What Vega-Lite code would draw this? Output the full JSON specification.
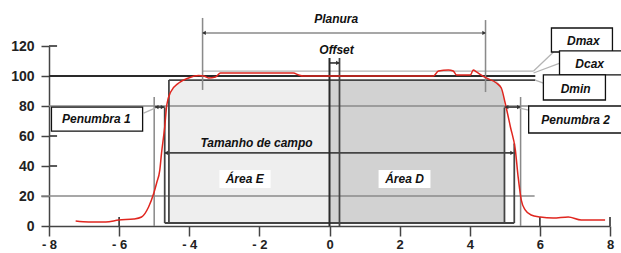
{
  "$schema": "https://vega.github.io/schema/vega-lite/v6.json",
  "width": 561,
  "height": 180,
  "autosize": "none",
  "padding": {"left": 49, "top": 46, "right": 11, "bottom": 27},
  "background": "white",
  "config": {"view": {"stroke": null}},
  "datasets": {
    "curve": [
      {"x": -7.24, "y": 3.3}, {"x": -6.87, "y": 2.7}, {"x": -6.38, "y": 2.7}, {"x": -6.01, "y": 4.0},
      {"x": -5.58, "y": 4.7}, {"x": -5.36, "y": 6.0}, {"x": -5.16, "y": 12.7}, {"x": -5.01, "y": 22.0},
      {"x": -4.93, "y": 28.7}, {"x": -4.84, "y": 37.3}, {"x": -4.79, "y": 48.7}, {"x": -4.70, "y": 66.0},
      {"x": -4.64, "y": 80.7}, {"x": -4.53, "y": 89.3}, {"x": -4.30, "y": 95.3}, {"x": -4.02, "y": 98.7},
      {"x": -3.73, "y": 100.3}, {"x": -3.59, "y": 100.0}, {"x": -3.45, "y": 98.7}, {"x": -3.25, "y": 99.3},
      {"x": -3.11, "y": 102}, {"x": -1.03, "y": 102}, {"x": -0.88, "y": 100.7}, {"x": -0.74, "y": 100},
      {"x": 1.68, "y": 100}, {"x": 2.96, "y": 100}, {"x": 3.11, "y": 103.3}, {"x": 3.39, "y": 104},
      {"x": 3.53, "y": 103.3}, {"x": 3.62, "y": 100.7}, {"x": 4.02, "y": 100.7}, {"x": 4.10, "y": 104},
      {"x": 4.19, "y": 102.7}, {"x": 4.47, "y": 98.7}, {"x": 4.76, "y": 95.3}, {"x": 4.90, "y": 92.0},
      {"x": 5.01, "y": 82}, {"x": 5.16, "y": 66}, {"x": 5.30, "y": 50.7}, {"x": 5.38, "y": 32.7},
      {"x": 5.47, "y": 17.3}, {"x": 5.58, "y": 10.7}, {"x": 5.75, "y": 7.3}, {"x": 6.01, "y": 6},
      {"x": 6.38, "y": 5.3}, {"x": 6.81, "y": 6}, {"x": 7.18, "y": 4}, {"x": 7.86, "y": 4}
    ],
    "fills": [
      {"region": "E", "x": -4.6, "y": 82}, {"region": "E", "x": -4.53, "y": 89.3},
      {"region": "E", "x": -4.3, "y": 95.3}, {"region": "E", "x": -4.05, "y": 97.3},
      {"region": "E", "x": 0, "y": 97.3},
      {"region": "D", "x": 0, "y": 97.3}, {"region": "D", "x": 4.76, "y": 97.3},
      {"region": "D", "x": 4.9, "y": 92.7}, {"region": "D", "x": 4.99, "y": 84}
    ],
    "segments": [
      {"x": -8, "x2": 5.87, "y": 100, "y2": 100, "kind": "k"},
      {"x": -3.62, "x2": 5.82, "y": 103.3, "y2": 103.3, "kind": "l"},
      {"x": -4.58, "x2": 5.87, "y": 97.3, "y2": 97.3, "kind": "d"},
      {"x": -8, "x2": 5.68, "y": 80, "y2": 80, "kind": "g"},
      {"x": -8.22, "x2": 5.85, "y": 20, "y2": 20, "kind": "g"},
      {"x": -4.7, "x2": 5.25, "y": 48.7, "y2": 48.7, "kind": "d"},
      {"x": -4.7, "x2": 5.27, "y": 2, "y2": 2, "kind": "d"},
      {"x": -3.62, "x2": 4.45, "y": 128.7, "y2": 128.7, "kind": "g"},
      {"x": 0, "x2": 0.285, "y": 108.7, "y2": 108.7, "kind": "d"},
      {"x": -5.0, "x2": -4.7, "y": 79.3, "y2": 79.3, "kind": "d"},
      {"x": 4.99, "x2": 5.45, "y": 79.3, "y2": 79.3, "kind": "d"},
      {"x": -5.0, "x2": -5.0, "y": 0, "y2": 86, "kind": "g"},
      {"x": -4.7, "x2": -4.7, "y": 2, "y2": 79, "kind": "d"},
      {"x": -4.58, "x2": -4.58, "y": 2, "y2": 97.3, "kind": "d"},
      {"x": -3.62, "x2": -3.62, "y": 90.7, "y2": 138.7, "kind": "g"},
      {"x": 4.45, "x2": 4.45, "y": 89.3, "y2": 137.3, "kind": "g"},
      {"x": 0, "x2": 0, "y": 0, "y2": 112, "kind": "k"},
      {"x": 0.285, "x2": 0.285, "y": 0, "y2": 112, "kind": "d"},
      {"x": 4.99, "x2": 4.99, "y": 2, "y2": 79, "kind": "d"},
      {"x": 5.27, "x2": 5.27, "y": 2, "y2": 55, "kind": "d"},
      {"x": 5.45, "x2": 5.45, "y": 0, "y2": 86, "kind": "g"},
      {"x": 5.82, "x2": 6.39, "y": 103.3, "y2": 116, "kind": "l"},
      {"x": 5.82, "x2": 6.59, "y": 102, "y2": 108.7, "kind": "l"},
      {"x": 5.87, "x2": 6.1, "y": 97.3, "y2": 95.3, "kind": "l"},
      {"x": -5.3, "x2": -4.96, "y": 75.3, "y2": 78.7, "kind": "l"},
      {"x": 5.39, "x2": 5.68, "y": 78.7, "y2": 77.3, "kind": "l"},
      {"x": -8, "x2": -7.77, "y": 40, "y2": 40, "kind": "d"},
      {"x": -8, "x2": -7.77, "y": 60, "y2": 60, "kind": "d"},
      {"x": -8, "x2": -7.77, "y": 120, "y2": 120, "kind": "d"},
      {"x": -6, "x2": -6, "y": 0, "y2": 6, "kind": "d"},
      {"x": 6, "x2": 6, "y": 0, "y2": 6, "kind": "d"},
      {"x": 8, "x2": 8, "y": 0, "y2": 6, "kind": "d"}
    ],
    "boxes": [
      {"x": -7.93, "x2": -5.33, "y": 63.3, "y2": 79.3, "kind": "box"},
      {"x": 5.68, "x2": 8.4, "y": 62, "y2": 80, "kind": "box"},
      {"x": 6.33, "x2": 8.07, "y": 116, "y2": 132, "kind": "box"},
      {"x": 6.56, "x2": 8.4, "y": 100.7, "y2": 116.7, "kind": "box"},
      {"x": 6.1, "x2": 7.87, "y": 84, "y2": 100.7, "kind": "box"},
      {"x": -3.14, "x2": -1.68, "y": 25.3, "y2": 37.3, "kind": "bg"},
      {"x": 1.4, "x2": 2.88, "y": 25.3, "y2": 37.3, "kind": "bg"}
    ],
    "labels": [
      {"x": 0.19, "y": 138, "text": "Planura"},
      {"x": 0.2, "y": 117.3, "text": "Offset"},
      {"x": -2.08, "y": 55.3, "text": "Tamanho de campo"},
      {"x": -2.42, "y": 31.3, "text": "Área E"},
      {"x": 2.14, "y": 31.3, "text": "Área D"},
      {"x": -6.65, "y": 71.3, "text": "Penumbra 1"},
      {"x": 7.02, "y": 70.7, "text": "Penumbra 2"},
      {"x": 7.24, "y": 123.3, "text": "Dmax"},
      {"x": 7.42, "y": 108, "text": "Dcax"},
      {"x": 7.02, "y": 91.3, "text": "Dmin"}
    ],
    "heads": [
      {"x": -3.58, "y": 128.7, "dir": "left"},
      {"x": 4.41, "y": 128.7, "dir": "right"},
      {"x": -4.66, "y": 48.7, "dir": "left"},
      {"x": 5.21, "y": 48.7, "dir": "right"},
      {"x": 0.24, "y": 108.7, "dir": "right"},
      {"x": -4.93, "y": 79.3, "dir": "left"},
      {"x": -4.76, "y": 79.3, "dir": "right"},
      {"x": 5.05, "y": 79.3, "dir": "left"},
      {"x": 5.4, "y": 79.3, "dir": "right"}
    ]
  },
  "encoding": {
    "x": {"field": "x", "type": "quantitative", "scale": {"domain": [-8, 8], "nice": false, "zero": false},
      "axis": {"values": [-8, -6, -4, -2, 0, 2, 4, 6, 8], "title": null, "grid": false,
        "labelExpr": "datum.value < 0 ? '- ' + (-datum.value) : datum.label",
        "domainColor": "#444", "domainWidth": 1.5, "tickColor": "#444", "tickWidth": 1.5, "tickSize": 10,
        "labelFont": "Liberation Sans", "labelFontSize": 13, "labelFontWeight": "bold", "labelColor": "#222",
        "labelPadding": 2, "labelFlush": false, "labelOverlap": false}},
    "y": {"field": "y", "type": "quantitative", "scale": {"domain": [0, 120], "nice": false, "zero": false},
      "axis": {"values": [0, 20, 40, 60, 80, 100, 120], "title": null, "grid": false,
        "domainColor": "#444", "domainWidth": 1.5, "tickColor": "#444", "tickWidth": 1.5, "tickSize": 8,
        "labelFont": "Liberation Sans", "labelFontSize": 14, "labelFontWeight": "bold", "labelColor": "#222",
        "labelPadding": 7, "labelFlush": false, "labelOverlap": false}}
  },
  "layer": [
    {
      "data": {"name": "fills"},
      "mark": {"type": "area", "stroke": null},
      "encoding": {
        "y2": {"datum": 2},
        "fill": {"field": "region", "type": "nominal", "scale": {"domain": ["E", "D"], "range": ["#eeeeee", "#d2d2d2"]}, "legend": null}
      }
    },
    {
      "data": {"name": "segments"},
      "mark": {"type": "rule"},
      "encoding": {
        "x2": {"field": "x2"},
        "y2": {"field": "y2"},
        "stroke": {"field": "kind", "type": "nominal", "scale": {"domain": ["k", "d", "g", "l"], "range": ["#2a2a2a", "#444444", "#8a8a8a", "#b4b4b4"]}, "legend": null},
        "strokeWidth": {"field": "kind", "type": "ordinal", "scale": {"domain": ["k", "d", "g", "l"], "range": [2, 1.3, 1.2, 1.3]}, "legend": null}
      }
    },
    {
      "data": {"name": "curve"},
      "mark": {"type": "line", "color": "#e0261f", "strokeWidth": 1.5, "interpolate": "monotone"},
      "encoding": {}
    },
    {
      "data": {"name": "boxes"},
      "transform": [{"filter": "datum.kind == 'box'"}],
      "mark": {"type": "rect", "fill": "white", "stroke": "#111", "strokeWidth": 1.3},
      "encoding": {"x2": {"field": "x2"}, "y2": {"field": "y2"}}
    },
    {
      "data": {"name": "boxes"},
      "transform": [{"filter": "datum.kind == 'bg'"}],
      "mark": {"type": "rect", "fill": "white", "stroke": null},
      "encoding": {"x2": {"field": "x2"}, "y2": {"field": "y2"}}
    },
    {
      "data": {"name": "labels"},
      "mark": {"type": "text", "font": "Liberation Sans", "fontStyle": "italic", "fontWeight": "bold", "fontSize": 12, "color": "#111", "align": "center", "baseline": "middle"},
      "encoding": {"text": {"field": "text"}}
    },
    {
      "data": {"name": "heads"},
      "mark": {"type": "point", "filled": true, "color": "#333", "size": 18, "opacity": 1},
      "encoding": {
        "shape": {"field": "dir", "type": "nominal", "scale": {"domain": ["left", "right"], "range": ["triangle-left", "triangle-right"]}, "legend": null}
      }
    }
  ]
}
